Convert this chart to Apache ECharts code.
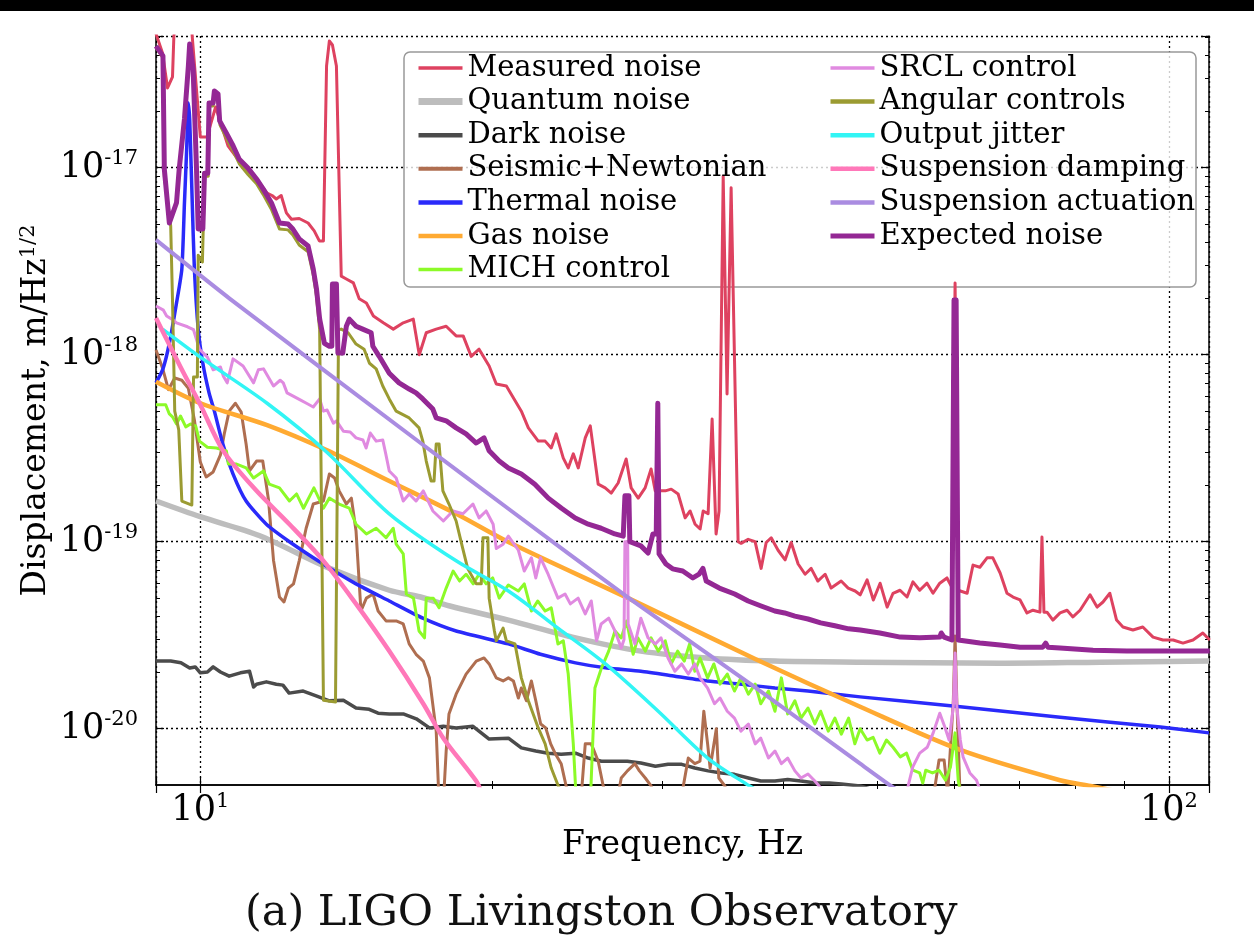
<!DOCTYPE html>
<html>
<head>
<meta charset="utf-8">
<script src="https://cdn.jsdelivr.net/npm/echarts@6/dist/echarts.min.js"></script>
<style>
html, body { margin: 0; padding: 0; background: #fff; }
#chart { width: 1254px; height: 947px; }
</style>
</head>
<body>
<div id="chart"></div>
<script>
// Frequency range (Hz) and displacement range (m/Hz^1/2)
const freqRange = [9, 110];
const dispRange = [5e-21, 5.06e-17];

const legendLeft = ['Measured noise', 'Quantum noise', 'Dark noise', 'Seismic+Newtonian', 'Thermal noise', 'Gas noise', 'MICH control'];
const legendRight = ['SRCL control', 'Angular controls', 'Output jitter', 'Suspension damping', 'Suspension actuation', 'Expected noise'];

// [frequency Hz, displacement m/Hz^1/2]
const measuredNoise = [[9.0,5.2e-17],[9.14,4.11e-17],[9.25,2.67e-17],[9.36,3.06e-17],[9.39,5.0e-17],[9.54,1.2e-16],[9.72,1.2e-16],[9.81,5.0e-17],[10.0,1.46e-17],[10.16,1.46e-17],[10.37,2.11e-17],[10.68,1.31e-17],[11.07,1.02e-17],[11.43,8.7e-18],[11.72,7.3e-18],[11.86,7.1e-18],[11.98,6.8e-18],[12.12,7.1e-18],[12.27,5.73e-18],[12.42,5.3e-18],[12.65,5.35e-18],[12.92,5.06e-18],[13.11,4.59e-18],[13.27,4.06e-18],[13.4,4.06e-18],[13.5,3.5e-17],[13.59,4.76e-17],[13.69,4.53e-17],[13.82,3.5e-17],[13.98,2.63e-18],[14.15,2.54e-18],[14.39,2.42e-18],[14.59,1.99e-18],[14.84,1.89e-18],[15.09,1.61e-18],[15.45,1.48e-18],[15.82,1.37e-18],[16.2,1.48e-18],[16.59,1.55e-18],[16.83,1.0e-18],[17.11,1.31e-18],[17.52,1.37e-18],[17.94,1.42e-18],[18.37,1.26e-18],[18.68,1.26e-18],[19.04,9.8e-19],[19.4,1.07e-18],[19.87,8.7e-19],[20.21,6.97e-19],[20.7,6.8e-19],[21.45,4.99e-19],[21.81,4.06e-19],[22.33,3.45e-19],[22.7,3.45e-19],[23.03,3.17e-19],[23.3,3.77e-19],[23.7,2.8e-19],[23.98,2.48e-19],[24.27,2.95e-19],[24.56,2.48e-19],[24.97,3.59e-19],[25.27,4.16e-19],[25.75,2.03e-19],[26.18,1.94e-19],[26.56,1.82e-19],[27.0,2.06e-19],[27.52,2.77e-19],[27.85,1.94e-19],[28.32,1.71e-19],[28.79,1.94e-19],[29.2,2.45e-19],[29.49,1.87e-19],[30.2,1.87e-19],[30.63,1.91e-19],[31.14,1.8e-19],[31.66,1.34e-19],[32.04,1.46e-19],[32.42,1.24e-19],[32.81,1.17e-19],[33.05,1.46e-19],[33.44,1.41e-19],[33.76,4.53e-19],[34.08,1.1e-19],[34.32,1.46e-19],[34.66,9.0e-18],[34.98,6.16e-19],[35.32,7.8e-18],[35.91,1.0e-19],[36.17,9.8e-20],[36.78,1.03e-19],[37.39,1.0e-19],[37.93,7.2e-20],[38.39,9.9e-20],[38.85,1.05e-19],[39.49,9.0e-20],[40.16,8.0e-20],[40.74,9.9e-20],[41.42,7.6e-20],[42.11,6.7e-20],[42.72,7.2e-20],[43.4,6.16e-20],[44.16,6.7e-20],[44.8,5.65e-20],[45.88,6.16e-20],[46.65,5.65e-20],[47.43,5.45e-20],[48.0,5.2e-20],[48.8,6.25e-20],[49.53,4.88e-20],[50.33,6.0e-20],[51.18,4.47e-20],[51.9,5.3e-20],[52.77,5.5e-20],[53.66,5.06e-20],[54.42,6.1e-20],[55.3,5.5e-20],[56.27,6.0e-20],[57.08,5.3e-20],[58.0,6.0e-20],[59.0,6.4e-20],[59.7,5.7e-20],[60.15,2.42e-18],[60.58,5.5e-20],[61.9,5.3e-20],[62.77,7.5e-20],[63.8,7.3e-20],[64.9,8.2e-20],[65.8,8.2e-20],[66.95,6.8e-20],[68.05,5.3e-20],[69.04,5.06e-20],[70.2,4.88e-20],[71.36,4.16e-20],[72.38,4.3e-20],[73.6,4.2e-20],[73.95,1.06e-19],[74.3,4.2e-20],[74.84,4.2e-20],[75.9,3.81e-20],[77.2,4.16e-20],[78.5,4.3e-20],[79.6,3.96e-20],[80.96,4.3e-20],[82.9,5.2e-20],[84.3,4.47e-20],[85.5,4.76e-20],[86.9,5.3e-20],[88.3,3.81e-20],[89.65,3.5e-20],[91.8,3.37e-20],[93.98,3.5e-20],[96.3,3.09e-20],[98.6,2.98e-20],[101,2.98e-20],[103.4,2.87e-20],[105.9,2.98e-20],[108.4,3.25e-20],[110.2,2.98e-20]];

const quantumNoise = [[9.0,1.65e-19],[10.0,1.36e-19],[11.5,1.08e-19],[13.6,7.2e-20],[15.67,5.5e-20],[16.88,5.06e-20],[18.1,4.53e-20],[20.8,3.81e-20],[24.4,3.06e-20],[28.5,2.6e-20],[33.3,2.39e-20],[39.2,2.3e-20],[48,2.27e-20],[67,2.24e-20],[85,2.27e-20],[110,2.3e-20]];

const darkNoise = [[9.0,2.3e-20],[9.32,2.3e-20],[9.55,2.25e-20],[9.75,2.11e-20],[9.88,2.14e-20],[10.0,1.99e-20],[10.17,2.01e-20],[10.31,2.14e-20],[10.49,2.01e-20],[10.71,1.91e-20],[11.0,1.99e-20],[11.24,2.03e-20],[11.35,1.67e-20],[11.43,1.73e-20],[11.7,1.78e-20],[11.98,1.73e-20],[12.17,1.71e-20],[12.35,1.55e-20],[12.77,1.59e-20],[13.17,1.5e-20],[13.59,1.41e-20],[14.05,1.42e-20],[14.48,1.29e-20],[14.94,1.27e-20],[15.26,1.21e-20],[15.67,1.2e-20],[16.2,1.2e-20],[16.71,1.13e-20],[17.24,1.01e-20],[17.82,1.03e-20],[18.37,1.01e-20],[19.12,1.03e-20],[19.87,8.8e-21],[20.8,8.9e-21],[21.45,7.9e-21],[22.2,7.6e-21],[22.86,7.4e-21],[23.58,7.3e-21],[24.4,7.4e-21],[25.15,6.97e-21],[25.95,6.7e-21],[26.8,6.7e-21],[27.6,6.7e-21],[28.5,6.55e-21],[29.5,6.3e-21],[30.4,6.45e-21],[31.4,6.45e-21],[32.4,6.16e-21],[33.44,5.95e-21],[34.5,5.8e-21],[35.6,5.7e-21],[36.8,5.45e-21],[37.9,5.25e-21],[39.2,5.25e-21],[40.4,5.35e-21],[41.7,5.25e-21],[43.2,5.12e-21],[44.6,5.12e-21],[45.9,5.06e-21],[48,4.94e-21],[50.3,4.6e-21],[59.4,4.16e-21]];

const seismicNewtonian = [[9.0,1.06e-18],[9.14,8.5e-19],[9.27,6.5e-19],[9.41,7.5e-19],[9.57,7.3e-19],[9.72,6.6e-19],[9.86,4.47e-19],[10.0,2.67e-19],[10.14,2.22e-19],[10.31,2.36e-19],[10.49,2.91e-19],[10.59,3.81e-19],[10.71,4.99e-19],[10.87,5.5e-19],[11.02,4.94e-19],[11.15,3.33e-19],[11.24,2.39e-19],[11.43,2.7e-19],[11.6,2.7e-19],[11.76,1.67e-19],[11.9,7.96e-20],[12.07,5.06e-20],[12.2,4.76e-20],[12.33,5.65e-20],[12.48,5.95e-20],[12.65,7.9e-20],[12.86,1.18e-19],[13.08,1.59e-19],[13.4,1.65e-19],[13.59,2.3e-19],[13.76,2.19e-19],[13.91,1.87e-19],[14.15,1.59e-19],[14.32,1.71e-19],[14.48,1.14e-19],[14.65,4.26e-20],[14.84,4.99e-20],[15.08,5.25e-20],[15.26,4.26e-20],[15.55,3.77e-20],[15.93,3.77e-20],[16.2,3.63e-20],[16.43,2.84e-20],[16.7,2.5e-20],[16.99,2.3e-20],[17.24,1.87e-20],[17.52,9.7e-21],[17.64,4.0e-21],[17.82,4.0e-21],[17.94,7.6e-21],[18.06,1.2e-20],[18.37,1.53e-20],[18.81,1.96e-20],[19.27,2.3e-20],[19.63,2.39e-20],[19.87,2.22e-20],[20.21,1.87e-20],[20.54,1.8e-20],[20.8,1.87e-20],[21.05,1.8e-20],[21.3,1.46e-20],[21.45,1.65e-20],[21.71,1.41e-20],[21.97,1.8e-20],[22.2,1.41e-20],[22.46,1.06e-20],[22.73,1.01e-20],[23.0,8.3e-21],[23.27,7.3e-21],[23.58,6.5e-21],[23.86,4.94e-21],[24.1,4.0e-21],[24.7,4.0e-21],[24.97,8.3e-21],[25.33,8.3e-21],[25.75,6.7e-21],[26.06,4.94e-21],[26.4,4.0e-21],[26.9,4.0e-21],[27.2,5.45e-21],[27.6,5.95e-21],[28.1,6.5e-21],[28.4,5.95e-21],[28.8,5.45e-21],[29.2,4.94e-21],[29.5,4.0e-21],[31.3,4.0e-21],[31.9,6.97e-21],[32.4,6.5e-21],[32.8,6.7e-21],[33.1,1.24e-20],[33.4,8.3e-21],[33.6,6.16e-21],[34.1,1.0e-20],[34.3,5.45e-21],[34.8,4.94e-21],[35.2,4.0e-21],[57,4.0e-21],[57.9,6.8e-21],[58.6,6.8e-21],[59.1,4.5e-21],[59.9,1.42e-20],[60.15,3.13e-20],[60.4,1.42e-20],[60.9,4.0e-21],[67,4.0e-21]];

const thermalNoise = [[9.0,7.07e-19],[9.15,8.4e-19],[9.29,1.15e-18],[9.45,1.89e-18],[9.57,2.87e-18],[9.63,6.5e-18],[9.68,1.24e-17],[9.72,2.22e-17],[9.75,1.82e-17],[9.78,1.1e-17],[9.81,6.5e-18],[9.86,2.87e-18],[9.95,1.37e-18],[10.06,9.0e-19],[10.21,6.25e-19],[10.34,4.99e-19],[10.55,3.33e-19],[10.81,2.3e-19],[11.15,1.65e-19],[11.7,1.24e-19],[12.36,1.0e-19],[13.39,7.6e-20],[14.48,5.95e-20],[15.67,4.82e-20],[16.97,3.9e-20],[18.37,3.33e-20],[20.8,2.84e-20],[22.45,2.5e-20],[24.4,2.25e-20],[26.3,2.11e-20],[28.5,2.03e-20],[30.9,1.91e-20],[33.4,1.8e-20],[36.2,1.73e-20],[39.2,1.65e-20],[42.4,1.59e-20],[48,1.48e-20],[60.9,1.31e-20],[77.2,1.15e-20],[98,1.02e-20],[110,9.5e-21]];

const gasNoise = [[9.0,7.16e-19],[10,5.5e-19],[11.72,4.2e-19],[13.5,3.09e-19],[15.67,2.11e-19],[18.37,1.41e-19],[20.8,9.96e-20],[27.65,4.99e-20],[37.4,2.36e-20],[48,1.31e-20],[60.9,7.7e-21],[77.2,5.3e-21],[83,4.94e-21],[89,4.6e-21]];

const michControl = [[9.0,5.4e-19],[9.21,5.4e-19],[9.29,4.82e-19],[9.36,4.65e-19],[9.45,4.26e-19],[9.54,4.7e-19],[9.66,4.11e-19],[9.77,4.26e-19],[9.89,4.16e-19],[9.98,3.45e-19],[10.17,3.2e-19],[10.39,3.17e-19],[10.64,3.06e-19],[10.69,2.6e-19],[10.9,2.6e-19],[11.15,2.48e-19],[11.35,2.19e-19],[11.62,2.39e-19],[11.78,2.03e-19],[12.07,1.94e-19],[12.36,1.65e-19],[12.57,1.8e-19],[12.78,1.51e-19],[13.1,1.94e-19],[13.4,1.51e-19],[13.59,1.71e-19],[13.91,1.59e-19],[14.25,1.51e-19],[14.48,1.24e-19],[14.84,1.1e-19],[15.19,1.18e-19],[15.55,1.05e-19],[15.82,1.18e-19],[15.93,9.7e-20],[16.2,8.6e-20],[16.32,5.25e-20],[16.6,4.99e-20],[16.82,3.33e-20],[17.04,3.06e-20],[17.11,4.99e-20],[17.4,4.99e-20],[17.64,4.43e-20],[17.94,5.65e-20],[18.24,6.97e-20],[18.52,6.16e-20],[18.81,6.7e-20],[19.13,5.95e-20],[19.4,6.7e-20],[19.73,5.95e-20],[20.04,6.4e-20],[20.35,4.99e-20],[20.8,5.87e-20],[21.3,5.45e-20],[21.6,5.95e-20],[21.97,4.26e-20],[22.3,4.82e-20],[22.7,4.26e-20],[23.03,4.43e-20],[23.4,2.84e-20],[23.7,2.95e-20],[23.98,1.96e-20],[24.27,8.3e-21],[24.45,4.0e-21],[25.27,4.0e-21],[25.55,1.65e-20],[25.95,2.11e-20],[26.4,2.6e-20],[26.8,3.33e-20],[27.2,3.06e-20],[27.55,3.77e-20],[27.98,2.5e-20],[28.3,3.06e-20],[28.8,2.6e-20],[29.2,3.06e-20],[29.7,2.6e-20],[30.2,2.95e-20],[30.63,2.22e-20],[31.1,2.6e-20],[31.6,2.3e-20],[32.0,2.84e-20],[32.4,2.03e-20],[32.8,2.39e-20],[33.4,1.87e-20],[33.9,2.22e-20],[34.4,1.73e-20],[35.0,1.96e-20],[35.6,1.59e-20],[36.15,1.87e-20],[36.8,1.53e-20],[37.4,1.73e-20],[37.9,1.36e-20],[38.6,1.59e-20],[39.2,1.24e-20],[39.8,1.87e-20],[40.4,1.2e-20],[41.1,1.41e-20],[41.7,1.14e-20],[42.4,1.29e-20],[43.1,1.06e-20],[43.7,1.24e-20],[44.5,9.7e-21],[45.2,1.14e-20],[45.9,9.35e-21],[46.7,1.14e-20],[47.4,8.3e-21],[48,1.0e-20],[48.8,8.7e-21],[49.5,9.0e-21],[50.3,7.4e-21],[51.1,8.7e-21],[51.9,7.96e-21],[52.8,7.07e-21],[53.6,7.4e-21],[54.4,6.0e-21],[55.3,5.8e-21],[55.7,5.12e-21],[56.1,6.0e-21],[57.0,5.8e-21],[57.9,6.0e-21],[58.8,5.3e-21],[59.5,6.25e-21],[60.15,9.5e-21],[60.6,5.3e-21],[61.2,4.0e-21]];

const srclControl = [[9.0,1.82e-18],[9.16,1.73e-18],[9.23,1.61e-18],[9.38,1.53e-18],[9.45,1.48e-18],[9.7,1.41e-18],[9.84,1.36e-18],[9.98,1.07e-18],[10.17,9.7e-19],[10.31,8.3e-19],[10.49,8.6e-19],[10.56,7.7e-19],[10.66,7.07e-19],[10.81,9.5e-19],[11.07,8.7e-19],[11.35,7.07e-19],[11.48,8.3e-19],[11.62,8.4e-19],[11.9,6.8e-19],[12.09,7.3e-19],[12.18,7.07e-19],[12.29,6.25e-19],[12.47,6.0e-19],[12.68,5.73e-19],[12.87,5.5e-19],[13.08,5.25e-19],[13.28,5.8e-19],[13.4,4.99e-19],[13.52,5.06e-19],[13.72,4.3e-19],[13.82,4.43e-19],[14.05,3.9e-19],[14.28,3.86e-19],[14.48,3.59e-19],[14.72,3.5e-19],[14.83,3.17e-19],[14.98,3.81e-19],[15.19,3.45e-19],[15.43,3.5e-19],[15.54,2.95e-19],[15.67,2.39e-19],[15.93,2.19e-19],[16.2,1.65e-19],[16.43,1.8e-19],[16.7,1.65e-19],[16.99,1.87e-19],[17.38,1.46e-19],[17.82,1.29e-19],[18.23,1.46e-19],[18.67,1.41e-19],[19.12,1.59e-19],[19.4,1.34e-19],[19.73,1.46e-19],[20.06,1.24e-19],[20.21,9.2e-20],[20.54,9.7e-20],[20.8,1.07e-19],[21.3,9.0e-20],[21.6,6.97e-20],[21.97,8.2e-20],[22.2,6.4e-20],[22.45,8.2e-20],[22.86,6.7e-20],[23.4,4.99e-20],[23.8,5.25e-20],[24.1,4.65e-20],[24.55,4.99e-20],[24.97,4.11e-20],[25.33,4.82e-20],[25.65,2.95e-20],[25.93,3.63e-20],[26.4,3.9e-20],[26.8,3.33e-20],[27.2,2.7e-20],[27.38,3.0e-20],[27.44,1.0e-19],[27.62,1.0e-19],[27.65,3.63e-20],[28.1,2.84e-20],[28.5,3.9e-20],[28.99,3.06e-20],[29.5,2.84e-20],[29.9,3.06e-20],[30.4,2.39e-20],[30.9,2.03e-20],[31.4,2.22e-20],[31.9,1.96e-20],[32.4,2.22e-20],[32.8,1.87e-20],[33.4,1.65e-20],[33.95,1.36e-20],[34.4,1.46e-20],[35.0,1.24e-20],[35.6,1.14e-20],[36.15,9.7e-21],[36.8,1.06e-20],[37.4,8.3e-21],[37.9,8.9e-21],[38.6,6.97e-21],[39.2,7.6e-21],[39.8,6.5e-21],[40.4,6.97e-21],[41.1,5.95e-21],[41.7,5.45e-21],[42.4,5.73e-21],[43.1,5.25e-21],[44.2,4.5e-21],[53.2,4.0e-21],[53.8,4.94e-21],[54.4,6.25e-21],[55.3,7.4e-21],[56.3,7.96e-21],[57.1,9.5e-21],[58,1.21e-20],[58.7,1.02e-20],[59.3,8.7e-21],[59.9,1.31e-20],[60.15,2.54e-20],[60.4,1.31e-20],[60.9,8.7e-21],[61.3,7.07e-21],[62.3,5.8e-21],[63.3,5.3e-21],[64.1,4.4e-21]];

const angularControls = [[9.0,4.4e-17],[9.15,3.86e-17],[9.18,9.0e-18],[9.32,4.88e-18],[9.36,1.96e-18],[9.41,4.99e-19],[9.5,3.96e-19],[9.57,1.65e-19],[9.8,1.57e-19],[9.84,7.6e-19],[9.93,7.6e-19],[9.95,3.4e-18],[10.05,3.13e-18],[10.1,9.0e-18],[10.19,9.0e-18],[10.21,2.14e-17],[10.31,2.14e-17],[10.34,2.42e-17],[10.43,2.33e-17],[10.48,1.69e-17],[10.64,1.44e-17],[10.81,1.23e-17],[10.97,1.05e-17],[11.2,9.2e-18],[11.43,8.2e-18],[11.61,7.2e-18],[11.84,6.0e-18],[12.07,4.7e-18],[12.32,4.65e-18],[12.46,4.37e-18],[12.65,3.86e-18],[12.92,3.55e-18],[13.08,2.67e-18],[13.18,2.06e-18],[13.28,1.36e-18],[13.4,1.42e-20],[13.79,1.39e-20],[13.89,1.36e-18],[13.98,1.37e-18],[14.21,1.31e-18],[14.48,1.14e-18],[14.76,1.07e-18],[14.95,9.0e-19],[15.19,8.4e-19],[15.43,6.8e-19],[15.67,5.8e-19],[15.93,4.99e-19],[16.43,4.59e-19],[16.82,4.06e-19],[16.97,3.45e-19],[17.11,2.7e-19],[17.31,2.11e-19],[17.43,2.11e-19],[17.52,3.33e-19],[17.64,3.33e-19],[17.8,1.87e-19],[18.06,1.59e-19],[18.37,1.29e-19],[18.66,9.2e-20],[18.88,7.2e-20],[19.27,5.95e-20],[19.5,5.95e-20],[19.58,1.05e-19],[19.81,1.05e-19],[19.87,4.99e-20],[20.12,3.33e-20],[20.21,2.95e-20],[20.54,3.45e-20],[20.7,2.95e-20],[21.13,2.84e-20],[21.45,1.87e-20],[21.81,1.41e-20],[22.33,1.01e-20],[22.7,8.3e-21],[23.03,6.16e-21],[23.42,4.94e-21],[23.8,4.16e-21]];

const outputJitter = [[9.14,1.37e-18],[10,9.7e-19],[11.72,5.5e-19],[13.5,3.02e-19],[15.67,1.41e-19],[18.37,7.9e-20],[20.8,5.45e-20],[23.4,3.45e-20],[26.2,2.22e-20],[29.7,1.24e-20],[33.4,6.97e-21],[36.9,4.94e-21],[37.8,4.6e-21]];

const suspensionDamping = [[9.0,1.57e-18],[9.54,8.6e-19],[10.0,5.4e-19],[10.56,3.06e-19],[11.43,1.87e-19],[12.36,1.24e-19],[13.4,7.9e-20],[14.48,4.65e-20],[15.67,2.6e-20],[16.99,1.36e-20],[17.82,8.9e-21],[19.27,5.25e-21],[19.5,4.6e-21]];

const suspensionActuation = [[9.0,4.11e-18],[10.73,1.99e-18],[16.88,3.37e-19],[20.8,1.5e-19],[27.7,4.99e-20],[37.0,1.73e-20],[48,6.5e-21],[51.6,4.96e-21],[52.8,4.6e-21]];

const expectedNoise = [[9.0,4.47e-17],[9.15,3.96e-17],[9.18,9.8e-18],[9.29,5.06e-18],[9.45,6.5e-18],[9.51,9.8e-18],[9.63,1.82e-17],[9.72,3.5e-17],[9.75,4.59e-17],[9.83,3.37e-17],[9.91,9.8e-18],[9.95,4.7e-18],[10.06,4.7e-18],[10.1,9.35e-18],[10.18,9.35e-18],[10.21,2.22e-17],[10.31,2.22e-17],[10.34,2.57e-17],[10.43,2.48e-17],[10.47,1.78e-17],[10.64,1.53e-17],[10.81,1.31e-17],[10.97,1.11e-17],[11.2,9.96e-18],[11.43,8.7e-18],[11.61,7.7e-18],[11.84,6.5e-18],[12.07,5.06e-18],[12.32,5.0e-18],[12.46,4.7e-18],[12.65,4.16e-18],[12.92,3.81e-18],[13.08,2.87e-18],[13.18,2.25e-18],[13.28,1.55e-18],[13.43,1.15e-18],[13.59,1.11e-18],[13.67,1.11e-18],[13.69,2.39e-18],[13.82,2.39e-18],[13.87,1.02e-18],[14.03,1.02e-18],[14.15,1.42e-18],[14.25,1.55e-18],[14.48,1.42e-18],[14.71,1.37e-18],[15.01,1.31e-18],[15.07,1.11e-18],[15.3,9.8e-19],[15.67,7.96e-19],[16.04,7.07e-19],[16.43,6.55e-19],[16.7,6.25e-19],[16.97,5.8e-19],[17.38,5.12e-19],[17.52,4.59e-19],[17.94,4.43e-19],[18.37,4.06e-19],[18.81,3.77e-19],[19.27,3.37e-19],[19.63,3.59e-19],[19.87,3.06e-19],[20.35,2.7e-19],[20.8,2.48e-19],[21.45,2.3e-19],[22.15,2.03e-19],[22.87,1.71e-19],[23.6,1.51e-19],[24.38,1.34e-19],[25.15,1.24e-19],[25.93,1.18e-19],[26.79,1.1e-19],[27.33,1.07e-19],[27.44,1.76e-19],[27.7,1.76e-19],[27.76,1.0e-19],[28.5,9.5e-20],[28.99,8.7e-20],[29.33,1.1e-19],[29.56,1.1e-19],[29.67,5.5e-19],[29.76,8.6e-20],[30.25,7.6e-20],[30.73,7.16e-20],[31.48,6.97e-20],[32.25,6.4e-20],[32.73,6.7e-20],[33.03,7.2e-20],[33.29,6.16e-20],[34.34,5.65e-20],[35.62,5.25e-20],[36.78,4.82e-20],[37.93,4.53e-20],[39.18,4.26e-20],[40.11,4.16e-20],[41.1,4.0e-20],[42.4,3.86e-20],[43.7,3.68e-20],[45.2,3.55e-20],[46.7,3.42e-20],[48.0,3.37e-20],[50.3,3.25e-20],[52.8,3.09e-20],[55.3,3.06e-20],[58.0,3.09e-20],[58.2,3.25e-20],[58.6,3.09e-20],[59.7,2.98e-20],[60.0,1.96e-18],[60.3,1.96e-18],[60.6,2.98e-20],[63.8,2.87e-20],[66.95,2.8e-20],[70.2,2.73e-20],[74.1,2.73e-20],[74.6,2.87e-20],[75.0,2.73e-20],[77.2,2.7e-20],[83.5,2.63e-20],[90.5,2.6e-20],[98,2.6e-20],[110.2,2.6e-20]];

const SERIF = '"DejaVu Serif", "Liberation Serif", serif';

function isDecade(v) {
  if (!(v > 0)) return false;
  const e = Math.log10(v);
  return Math.abs(e - Math.round(e)) < 1e-6;
}
function powLabel(v) {
  if (!isDecade(v)) return '';
  return '{b|10}{s|' + Math.round(Math.log10(v)) + '}';
}
const labelRich = {
  b: { fontFamily: SERIF, fontSize: 35, color: '#000', lineHeight: 40 },
  s: { fontFamily: SERIF, fontSize: 21, color: '#000', lineHeight: 22, verticalAlign: 'top' }
};

function curve(name, data, color, width, extra) {
  return Object.assign({
    type: 'line', name: name, data: data,
    symbol: 'none', showSymbol: false, clip: true, silent: true,
    lineStyle: { color: color, width: width, join: 'round' },
    itemStyle: { color: color },
    emphasis: { disabled: true }
  }, extra || {});
}

// legend swatch thickness per entry
const legendWidths = {
  'Measured noise': 3.5, 'Quantum noise': 7, 'Dark noise': 4.5, 'Seismic+Newtonian': 4,
  'Thermal noise': 4.5, 'Gas noise': 4.5, 'MICH control': 3.5, 'SRCL control': 3.5,
  'Angular controls': 4.5, 'Output jitter': 4.5, 'Suspension damping': 4.5,
  'Suspension actuation': 4.5, 'Expected noise': 5
};
function legendItems(names) {
  return names.map(function (n) { return { name: n, lineStyle: { width: legendWidths[n], cap: 'butt' } }; });
}
function legendBlock(names, left) {
  return {
    data: legendItems(names), orient: 'vertical', left: left, top: 48,
    itemWidth: 44, itemHeight: 8, itemGap: 3.6, selectedMode: false,
    itemStyle: { opacity: 0 },
    textStyle: { fontFamily: SERIF, fontSize: 29, lineHeight: 30, color: '#000', padding: [0, 0, 0, 0] }
  };
}

const axisLineStyle = { lineStyle: { color: '#000', width: 1.5 } };
const tickStyle = { inside: true, length: 8, lineStyle: { color: '#000', width: 1.2 } };
const minorStyle = { show: true, splitNumber: 9, length: 4, lineStyle: { color: '#000', width: 1 } };

const chart = echarts.init(document.getElementById('chart'), null, { renderer: 'canvas' });
chart.setOption({
  animation: false,
  backgroundColor: '#fff',
  title: {
    text: '(a) LIGO Livingston Observatory',
    left: 240, top: 887,
    textStyle: { fontFamily: SERIF, fontSize: 43, fontWeight: 'normal', color: '#111' }
  },
  grid: { left: 156, right: 45, top: 36, bottom: 162, containLabel: false },
  legend: [legendBlock(legendLeft, 410), legendBlock(legendRight, 823)],
  graphic: [
    { type: 'rect', left: 0, top: 0, shape: { width: 1254, height: 11 }, style: { fill: '#000' }, z: 10 },
    { type: 'rect', shape: { x: 404, y: 52, width: 792, height: 235, r: 6 },
      style: { fill: 'rgba(255,255,255,0.8)', stroke: '#999', lineWidth: 1.5 }, z: 3 }
  ],
  xAxis: [
    {
      type: 'log', logBase: 10, min: freqRange[0], max: freqRange[1],
      name: 'Frequency, Hz', nameLocation: 'middle', nameGap: 44, nameMoveOverlap: false,
      nameTextStyle: { fontFamily: SERIF, fontSize: 33, color: '#000' },
      axisLine: axisLineStyle, axisTick: tickStyle, minorTick: minorStyle,
      axisLabel: { formatter: powLabel, rich: labelRich, margin: 6, showMinLabel: false, showMaxLabel: false },
      splitLine: { show: true, lineStyle: { color: '#000', width: 1.3, type: [2, 3] } }
    },
    {
      type: 'log', logBase: 10, min: freqRange[0], max: freqRange[1], position: 'top',
      axisLine: axisLineStyle, axisTick: tickStyle, minorTick: minorStyle,
      axisLabel: { show: false }, splitLine: { show: false }
    }
  ],
  yAxis: [
    {
      type: 'log', logBase: 10, min: dispRange[0], max: dispRange[1],
      name: 'Displacement, m/Hz{s|1/2}', nameLocation: 'middle', nameGap: 102, nameMoveOverlap: false,
      nameTextStyle: { fontFamily: SERIF, fontSize: 33, color: '#000', lineHeight: 36,
        rich: { s: { fontFamily: SERIF, fontSize: 21, color: '#000', lineHeight: 22, verticalAlign: 'top' } } },
      axisLine: axisLineStyle, axisTick: tickStyle, minorTick: minorStyle,
      axisLabel: { formatter: powLabel, rich: labelRich, margin: 18, showMinLabel: false, showMaxLabel: false },
      splitLine: { show: true, lineStyle: { color: '#000', width: 1.3, type: [2, 3] } }
    },
    {
      type: 'log', logBase: 10, min: dispRange[0], max: dispRange[1], position: 'right',
      axisLine: axisLineStyle, axisTick: tickStyle, minorTick: minorStyle,
      axisLabel: { show: false }, splitLine: { show: false }
    }
  ],
  series: [
    curve('Measured noise', measuredNoise, '#de4260', 3),
    curve('Quantum noise', quantumNoise, '#bdbdbd', 5.5, { smooth: 0.3 }),
    curve('Dark noise', darkNoise, '#4b4b4b', 3.5),
    curve('Seismic+Newtonian', seismicNewtonian, '#af6e50', 3),
    curve('Thermal noise', thermalNoise, '#2a2afa', 3.5, { smooth: 0.2 }),
    curve('Gas noise', gasNoise, '#ffaa32', 4.5, { smooth: 0.3 }),
    curve('MICH control', michControl, '#8cfa28', 3),
    curve('SRCL control', srclControl, '#e08ae0', 3),
    curve('Angular controls', angularControls, '#9b9b32', 3),
    curve('Output jitter', outputJitter, '#32f5f5', 3.5, { smooth: 0.3 }),
    curve('Suspension damping', suspensionDamping, '#ff78b9', 4.5, { smooth: 0.3 }),
    curve('Suspension actuation', suspensionActuation, '#aa8ce1', 4, { smooth: 0.2 }),
    curve('Expected noise', expectedNoise, '#942894', 5)
  ]
});
</script>
</body>
</html>
